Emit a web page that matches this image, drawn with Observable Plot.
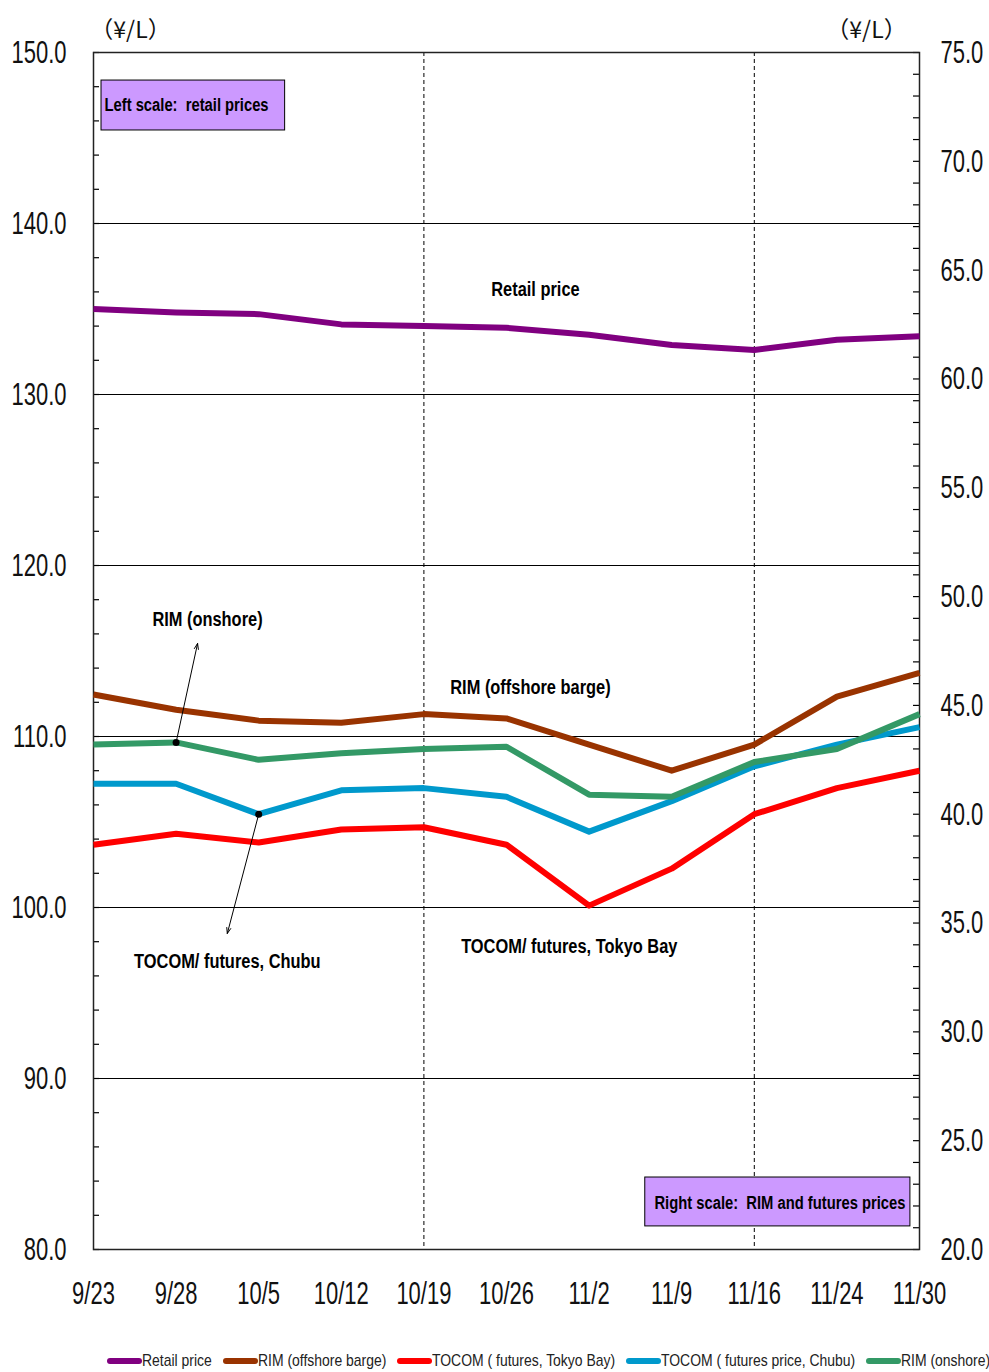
<!DOCTYPE html>
<html><head><meta charset="utf-8">
<script src="https://cdn.jsdelivr.net/npm/d3@7"></script>
<script src="https://cdn.jsdelivr.net/npm/@observablehq/plot@0.6"></script>
<style>
body{margin:0;background:#fff;}
#chart svg{display:block;}
.legend{display:flex;padding-left:107px;padding-top:10px;height:22px;align-items:center;font-family:"Liberation Sans",Arial,sans-serif;font-size:17px;color:#222;white-space:nowrap;}
.item{display:flex;align-items:center;margin-right:11px;}
.sw{display:inline-block;width:35px;height:6px;border-radius:3px;}
.lt{display:inline-block;transform-origin:0 50%;}
</style></head><body><div id="chart"></div><div class="legend" id="legend"></div>
<script>
// ---- data ----
const dates = ["9/23","9/28","10/5","10/12","10/19","10/26","11/2","11/9","11/16","11/24","11/30"];
const retailPrice = [135.0, 134.8, 134.7, 134.1, 134.0, 133.9, 133.5, 132.9, 132.6, 133.2, 133.4];
const rimOffshore = [45.5, 44.8, 44.3, 44.2, 44.6, 44.4, 43.2, 42.0, 43.2, 45.4, 46.5];
const tocomTokyo  = [38.6, 39.1, 38.7, 39.3, 39.4, 38.6, 35.8, 37.5, 40.0, 41.2, 42.0];
const tocomChubu  = [41.4, 41.4, 40.0, 41.1, 41.2, 40.8, 39.2, 40.6, 42.2, 43.2, 44.0];
const rimOnshore  = [43.2, 43.3, 42.5, 42.8, 43.0, 43.1, 40.9, 40.8, 42.4, 43.0, 44.6];

const seriesNames  = ["Retail price","RIM (offshore barge)","TOCOM ( futures, Tokyo Bay)","TOCOM ( futures price, Chubu)","RIM (onshore)"];
const seriesColors = ["#800080","#993300","#FF0000","#0099CC","#339966"];
const seriesValues = [retailPrice, rimOffshore, tocomTokyo, tocomChubu, rimOnshore];
const seriesAxis   = ["left","right","right","right","right"];

const leftTicks  = [80, 90, 100, 110, 120, 130, 140, 150];
const rightTicks = [20, 25, 30, 35, 40, 45, 50, 55, 60, 65, 70, 75];
const leftMinorStep = 2, rightMinorStep = 1;
const dashedAt = [4, 8]; // 10/19, 11/16
const unitLabel = "（¥/L）";

// annotations (x in date index units, y in left-scale units)
const labels = [
  {x: 5.35, y: 136.14, label: "Retail price"},
  {x: 5.29, y: 112.87, label: "RIM (offshore barge)"},
  {x: 1.38, y: 116.84, label: "RIM (onshore)"},
  {x: 1.62, y: 96.84,  label: "TOCOM/ futures, Chubu"},
  {x: 5.76, y: 97.72,  label: "TOCOM/ futures, Tokyo Bay"}
];
const boxes = [
  {x1: 0.097, x2: 2.32, y1: 148.36, y2: 145.44, tx: 0.133, ty: 146.9, anchor: "start", label: "Left scale:\u00a0 retail prices"},
  {x1: 6.68, x2: 9.89, y1: 84.21, y2: 81.35, tx: 9.83, ty: 82.69, anchor: "end", label: "Right scale:\u00a0 RIM and futures prices"}
];
const arrows = [
  {series: 4, i: 1, x2: 1.26, y2: 115.44},
  {series: 3, i: 2, x2: 1.62, y2: 98.48}
];

// ---- build ----
const W = 989, H = 1340, mL = 93, mR = 70, mT = 52, mB = 91;
const lMin = 80, lMax = 150, rMin = 20, rMax = 75;
const conv = v => lMin + (v - rMin) * (lMax - lMin) / (rMax - rMin);
const inv  = y => rMin + (y - lMin) * (rMax - rMin) / (lMax - lMin);
const pxPerIdx = (W - mL - mR) / (dates.length - 1);
const tickLen = 6 / pxPerIdx;

const rows = [];
seriesValues.forEach((vals, s) => vals.forEach((v, i) => rows.push({s, name: seriesNames[s], i, y: seriesAxis[s] === "left" ? v : conv(v)})));

const leftMinor = d3.range(lMin, lMax + 0.001, leftMinorStep);
const rightMinor = d3.range(rMin, rMax + 0.001, rightMinorStep).map(conv);

const arrowData = arrows.map(a => ({x1: a.i, y1: conv(seriesValues[a.series][a.i]), x2: a.x2, y2: a.y2}));

const font = "'Liberation Sans', Arial, sans-serif";
const cjk = "'Noto Sans CJK JP', 'Liberation Sans', sans-serif";
const tickFont = 22;

const chart = Plot.plot({
  width: W, height: H,
  marginLeft: mL, marginRight: mR, marginTop: mT, marginBottom: mB,
  style: {fontFamily: font, color: "#111", background: "#fff"},
  x: {domain: [0, dates.length - 1]},
  y: {domain: [lMin, lMax]},
  marks: [
    Plot.ruleY(leftTicks.slice(1, -1), {stroke: "black", strokeWidth: 1.2}),
    Plot.ruleX(dashedAt, {stroke: "black", strokeWidth: 1, strokeDasharray: "4,3"}),
    Plot.ruleY(leftMinor, {x1: 0, x2: tickLen, stroke: "black", strokeWidth: 1.2}),
    Plot.ruleY(rightMinor, {x1: dates.length - 1 - tickLen, x2: dates.length - 1, stroke: "black", strokeWidth: 1.2}),
    Plot.frame({stroke: "#222", strokeWidth: 1.5}),
    Plot.axisY({anchor: "left", ticks: leftTicks, tickSize: 0, tickPadding: 27, tickFormat: d => d.toFixed(1), fontSize: tickFont, label: null}),
    Plot.axisY({anchor: "right", ticks: rightTicks.map(conv), tickSize: 0, tickPadding: 21, tickFormat: d => inv(d).toFixed(1), fontSize: tickFont, label: null}),
    Plot.axisX({ticks: d3.range(dates.length), tickSize: 0, tickPadding: 35, tickFormat: i => dates[i], fontSize: tickFont, label: null}),
    Plot.text([unitLabel], {frameAnchor: "top-left", textAnchor: "middle", dx: 37, dy: -31, fontSize: 23, fontFamily: cjk, fill: "#111"}),
    Plot.text([unitLabel], {frameAnchor: "top-right", textAnchor: "middle", dx: -53, dy: -31, fontSize: 23, fontFamily: cjk, fill: "#111"}),
    ...seriesNames.map((n, s) => Plot.line(rows.filter(r => r.s === s), {x: "i", y: "y", stroke: seriesColors[s], strokeWidth: 6, strokeLinecap: "butt", strokeLinejoin: "round"})),
    Plot.rect(boxes, {x1: "x1", x2: "x2", y1: "y1", y2: "y2", fill: "#CC99FF", stroke: "black", strokeWidth: 1}),
    Plot.text(boxes.filter(b => b.anchor === "start"), {x: "tx", y: "ty", text: "label", textAnchor: "start", fontWeight: "bold", fontSize: 18, fill: "black"}),
    Plot.text(boxes.filter(b => b.anchor === "end"), {x: "tx", y: "ty", text: "label", textAnchor: "end", fontWeight: "bold", fontSize: 18, fill: "black"}),
    Plot.text(labels, {x: "x", y: "y", text: "label", fontWeight: "bold", fontSize: 20, fill: "black"}),
    Plot.arrow(arrowData, {x1: "x1", y1: "y1", x2: "x2", y2: "y2", stroke: "black", strokeWidth: 1, headLength: 9, headAngle: 40}),
    Plot.dot(arrowData, {x: "x1", y: "y1", r: 3.5, fill: "black"})
  ]
});
document.getElementById("chart").appendChild(chart);

// tall, narrow tick labels: stretch each one vertically about its own centre
chart.querySelectorAll("g[aria-label$='tick label'] text").forEach(t => {
  const r = t.getBoundingClientRect();
  const parent = t.parentNode;
  const inv = parent.getScreenCTM().inverse();
  const p = new DOMPoint(r.x + r.width / 2, r.y + r.height / 2).matrixTransform(inv);
  const g = document.createElementNS("http://www.w3.org/2000/svg", "g");
  g.setAttribute("transform", `translate(${p.x},${p.y}) scale(1,1.45) translate(${-p.x},${-p.y})`);
  parent.insertBefore(g, t);
  g.appendChild(t);
});
// narrow bold annotation labels
chart.querySelectorAll("g[aria-label='text'] text").forEach(t => {
  if (t.querySelector("tspan") || t.textContent === unitLabel) return;
  const len = t.getComputedTextLength();
  t.setAttribute("textLength", (len * 0.82).toFixed(1));
  t.setAttribute("lengthAdjust", "spacingAndGlyphs");
});

const legend = document.getElementById("legend");
seriesNames.forEach((n, s) => {
  const it = document.createElement("span");
  it.className = "item";
  const sw = document.createElement("span");
  sw.className = "sw";
  sw.style.background = seriesColors[s];
  const t = document.createElement("span");
  t.className = "lt";
  t.textContent = n;
  it.appendChild(sw); it.appendChild(t);
  legend.appendChild(it);
  const f = 0.82;
  t.style.transform = `scaleX(${f})`;
  t.style.marginRight = (-t.offsetWidth * (1 - f)) + "px";
});
</script>
</body></html>
